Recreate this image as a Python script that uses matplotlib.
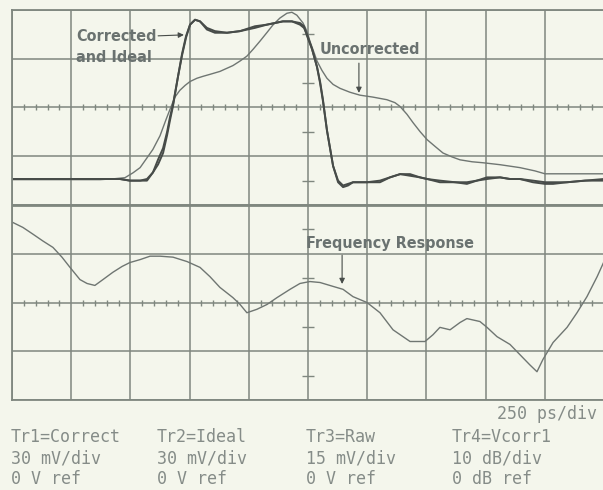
import numpy as np
import matplotlib
matplotlib.use("Agg")
import matplotlib.pyplot as plt
from matplotlib import font_manager

# --- trace data (time in ps, 250 ps/div, 10 divisions) ---
corr_t_ps = [0, 203, 456, 498, 541, 570, 595, 617, 638, 655, 667, 680, 701, 718, 735,
             752, 773, 794, 823, 857, 908, 963, 1026, 1077, 1144, 1182, 1216, 1233, 1246, 1267,
             1288, 1301, 1313, 1330, 1356, 1377, 1398, 1419, 1440, 1499, 1554, 1596, 1639, 1681, 1723,
             1753, 1807, 1871, 1921, 1963, 2006, 2061, 2103, 2145, 2200, 2251, 2285, 2344, 2420, 2500]
# Tr1 corrected, 30 mV/div
corrected_mv = [-44, -44, -44, -45, -45, -44, -40, -35, -28, -17, -8, 1, 19, 33, 44,
                51, 54, 53, 48, 46, 46, 47, 49, 51, 53, 53, 51, 49, 45, 36,
                25, 16, 5, -14, -36, -46, -49, -48, -46, -46, -46, -43, -41, -41, -43,
                -44, -46, -46, -47, -45, -43, -43, -44, -44, -46, -47, -47, -46, -45, -44]
# Tr2 ideal, 30 mV/div
ideal_mv = [-44, -44, -44, -45, -45, -45, -40, -32, -25, -15, -6, 2, 19, 32, 43,
            51, 54, 53, 49, 47, 46, 47, 50, 51, 53, 53, 52, 50, 44, 36,
            25, 15, 4, -14, -36, -45, -48, -47, -46, -46, -45, -43, -41, -42, -43,
            -44, -45, -46, -46, -45, -44, -43, -44, -44, -45, -46, -46, -46, -45, -45]

raw_t_ps = [0, 372, 435, 477, 511, 541, 570, 595, 625, 650, 667, 688, 709, 731, 752,
            781, 807, 836, 878, 933, 963, 992, 1018, 1047, 1077, 1102, 1131, 1161, 1182, 1203,
            1229, 1246, 1258, 1275, 1288, 1309, 1330, 1356, 1385, 1427, 1469, 1524, 1583, 1617, 1639,
            1668, 1694, 1723, 1753, 1787, 1820, 1858, 1892, 1943, 1989, 2061, 2145, 2208, 2251, 2344,
            2420, 2500]
# Tr3 raw, 15 mV/div
raw_mv = [-22.2, -22.2, -21.9, -21.6, -20.1, -18.5, -15.5, -12.9, -8.7, -3.8, -0.6, 3.2, 5.3, 6.8, 8.0,
          9.0, 9.6, 10.2, 11.1, 12.9, 14.3, 15.8, 17.9, 20.4, 23.1, 25.4, 27.5, 29.0, 29.3, 28.4,
          26.0, 23.4, 20.4, 17.0, 14.3, 11.4, 9.0, 7.1, 5.9, 4.7, 3.8, 3.2, 2.4, 1.5, 0.3,
          -2.1, -4.7, -7.4, -9.9, -12.0, -14.0, -15.2, -16.1, -16.7, -17.0, -17.6, -18.5, -19.5, -20.4, -20.4,
          -20.4, -20.4]

resp_t = [0, 46, 89, 131, 173, 211, 245, 287, 317, 350, 384, 426, 465, 498, 541,
          583, 625, 680, 739, 794, 836, 878, 933, 963, 992, 1034, 1077, 1119, 1174, 1216,
          1258, 1301, 1356, 1398, 1440, 1499, 1554, 1609, 1681, 1744, 1778, 1807, 1850, 1892, 1921,
          1976, 2006, 2048, 2103, 2145, 2187, 2217, 2242, 2285, 2344, 2386, 2428, 2471, 2500]
# Tr4 frequency response, 10 dB/div
resp_db = [16.5, 15.4, 14.0, 12.6, 11.3, 9.3, 7.2, 4.7, 3.9, 3.5, 4.7, 6.2, 7.4, 8.2, 8.8,
           9.5, 9.5, 9.3, 8.4, 7.2, 5.3, 3.1, 1.0, -0.4, -2.1, -1.4, -0.4, 1.0, 2.7, 3.9,
           4.3, 4.1, 3.3, 2.7, 1.2, 0.0, -2.1, -5.6, -8.0, -8.0, -6.6, -5.1, -5.6, -4.1, -3.3,
           -3.9, -5.1, -7.0, -8.6, -10.7, -12.8, -14.2, -11.7, -8.2, -5.1, -2.1, 1.2, 5.3, 8.4]

PS_PER_DIV = 250
BG = "#f4f6ec"
GRID = "#7f877f"
DARK = "#474c49"
LIGHT = "#6f7672"
TEXT = "#6a7270"
SCOPE_TXT = "#858c88"


def narrow_bold():
    """Pick a condensed bold face if one is installed."""
    for f in font_manager.fontManager.ttflist:
        if "Narrow" in f.name or "Condensed" in f.name:
            return dict(family=f.name, fontsize=12, fontweight="bold")
        if f.name == "DejaVu Sans" and f.stretch in ("condensed", "semi-condensed", 500):
            return dict(family="DejaVu Sans", fontstretch="condensed",
                        fontsize=11.5, fontweight="bold")
    return dict(family="Liberation Sans", fontsize=10.5, fontweight="bold")


fig = plt.figure(figsize=(6.03, 4.90), dpi=100)
fig.patch.set_facecolor(BG)
ax = fig.add_axes([12 / 603, 90 / 490, 592 / 603, 390 / 490])
ax.set_facecolor(BG)
ax.set_xlim(0, 10 * PS_PER_DIV)
ax.set_ylim(0, 8)

# graticule
ax.set_xticks(np.arange(0, 10 * PS_PER_DIV + 1, PS_PER_DIV))
ax.set_yticks(range(9))
ax.grid(True, color=GRID, lw=1.1)
ax.tick_params(length=0, labelbottom=False, labelleft=False)
for s in ax.spines.values():
    s.set_color(GRID)
    s.set_linewidth(1.3)
ax.axhline(4, color=GRID, lw=2.0)

# small tick marks on the centre lines
minor_x = [x for x in np.arange(0, 10 * PS_PER_DIV, PS_PER_DIV / 5) if x % PS_PER_DIV]
for yc in (2, 6):
    ax.plot(minor_x, [yc] * len(minor_x), ls="none", marker="|", ms=4,
            mew=1.0, color=GRID)
ax.plot([5 * PS_PER_DIV] * 8, np.arange(0.5, 8, 1.0), ls="none", marker="_",
        ms=8, mew=1.0, color=GRID)

# upper half: centre at 6 div, lower half: centre at 2 div
ax.plot(raw_t_ps, np.array(raw_mv) / 15 + 6, color=LIGHT, lw=1.0)
ax.plot(corr_t_ps, np.array(ideal_mv) / 30 + 6, color=DARK, lw=1.4)
ax.plot(corr_t_ps, np.array(corrected_mv) / 30 + 6, color=DARK, lw=1.4)
ax.plot(resp_t, np.array(resp_db) / 10 + 2, color=LIGHT, lw=1.0)

# callouts
lab = dict(color=TEXT, va="center", **narrow_bold())
arr = dict(arrowstyle="-|>", color=DARK, lw=0.8, mutation_scale=8,
           shrinkA=0, shrinkB=0)
ax.text(270, 7.45, "Corrected", ha="left", **lab)
ax.text(270, 7.02, "and Ideal", ha="left", **lab)
ax.annotate("", xy=(726, 7.49), xytext=(617, 7.47), arrowprops=arr)
ax.text(1512, 7.18, "Uncorrected", ha="center", **lab)
ax.annotate("", xy=(1465, 6.30), xytext=(1465, 6.91), arrowprops=arr)
ax.text(1596, 3.22, "Frequency Response", ha="center", **lab)
ax.annotate("", xy=(1394, 2.38), xytext=(1394, 2.97), arrowprops=arr)

# scope readout below the graticule
mono = dict(color=SCOPE_TXT, fontsize=12, family="DejaVu Sans Mono",
            va="baseline")
fig.text(597 / 603, 1 - 419 / 490, "250 ps/div", ha="right", **mono)
cols = [11, 157, 306, 452]
rows = [442, 463, 484]
readout = [
    ["Tr1=Correct", "30 mV/div", "0 V ref"],
    ["Tr2=Ideal", "30 mV/div", "0 V ref"],
    ["Tr3=Raw", "15 mV/div", "0 V ref"],
    ["Tr4=Vcorr1", "10 dB/div", "0 dB ref"],
]
for cx, lines in zip(cols, readout):
    for ry, s in zip(rows, lines):
        fig.text(cx / 603, 1 - ry / 490, s, ha="left", **mono)

fig.savefig("out.png", dpi=100, facecolor=BG)
